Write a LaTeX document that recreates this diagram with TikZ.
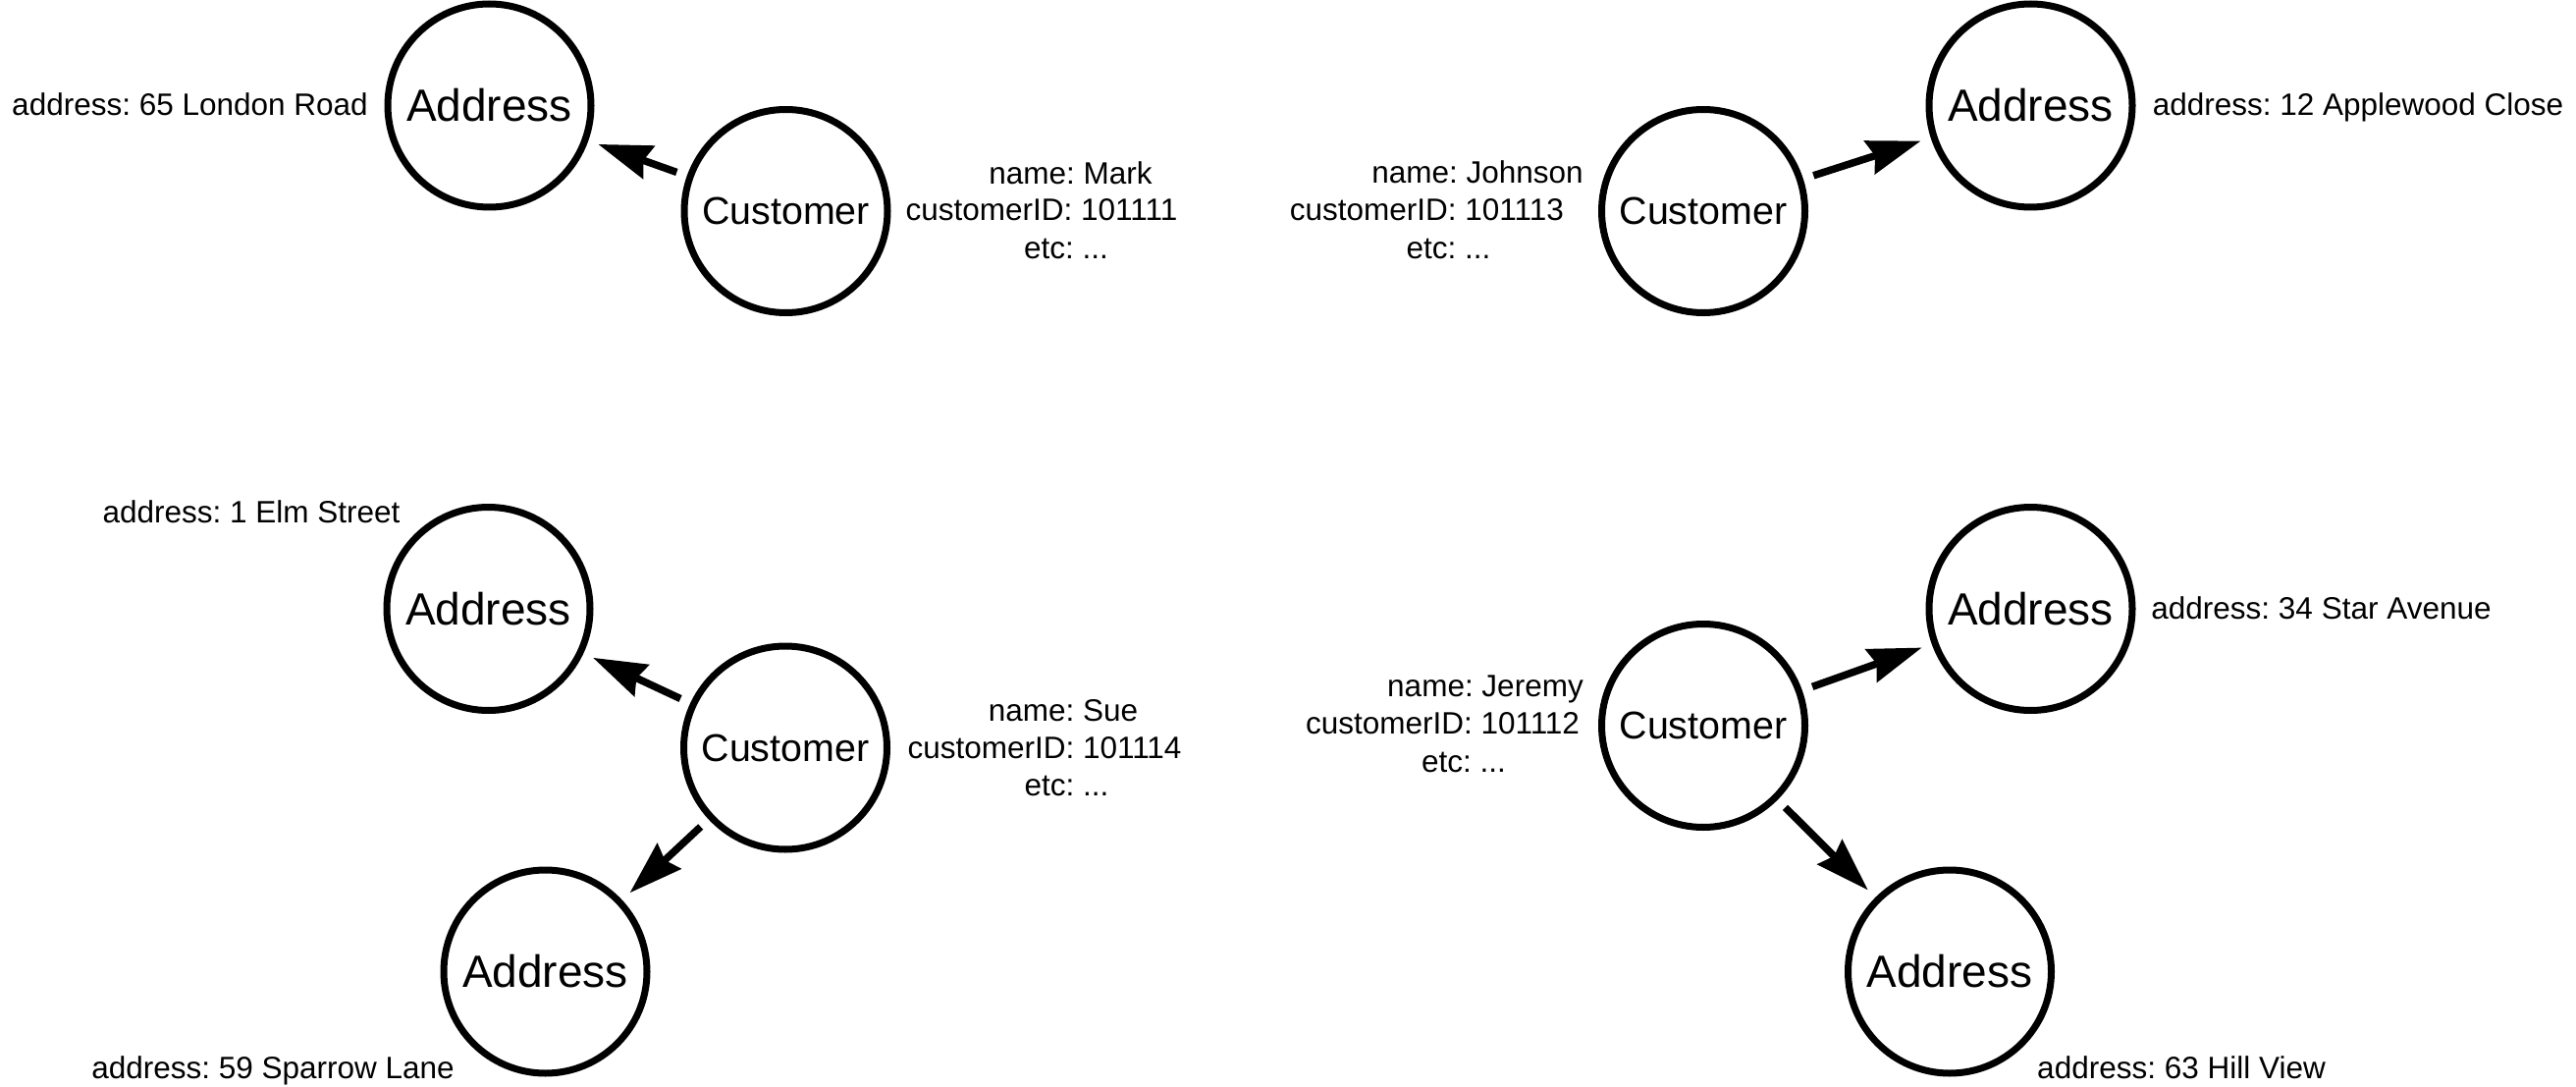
\documentclass[tikz,border=0pt]{standalone}
\usepackage{fontspec}
\setmainfont{Liberation Sans}
\usetikzlibrary{arrows.meta}
\begin{document}
\frenchspacing
\begin{tikzpicture}[x=0.5pt,y=-0.5pt,
  ent/.style={circle, draw=black, line width=3.5pt, minimum size=103.5pt, inner sep=0pt, outer sep=0pt},
  addr/.style={ent, font=\fontsize{23pt}{27pt}\selectfont},
  cust/.style={ent, font=\fontsize{19.7pt}{24pt}\selectfont},
  lbl/.style={anchor=base, inner sep=0pt, font=\fontsize{15.75pt}{19pt}\selectfont\frenchspacing},
  rel/.style={line width=3.75pt, shorten >=7.25pt, shorten <=7.25pt,
    -{Stealth[length=27.5pt,width=18.25pt,inset=3.25pt,line width=0pt]}}
]
\useasboundingbox (0,0) rectangle (2624,1107);

% entity circles
\node[addr] (a1) at (498.5,107.5) {Address};
\node[cust] (c1) at (800.5,215) {Customer};
\node[cust] (c2) at (1735,215) {Customer};
\node[addr] (a2) at (2068.5,107.5) {Address};
\node[addr] (a3) at (497.5,620) {Address};
\node[cust] (c3) at (800,761.5) {Customer};
\node[addr] (a4) at (555.5,989.5) {Address};
\node[cust] (c4) at (1735,739) {Customer};
\node[addr] (a5) at (2068.5,620) {Address};
\node[addr] (a6) at (1986,989.5) {Address};

% address labels
\node[lbl] (la1) at (193.5,117.5) {address: 65 London Road};
\node[lbl] (la2) at (2402,117.5) {address: 12 Applewood Close};
\node[lbl] (la3) at (256,532) {address: 1 Elm Street};
\node[lbl] (la4) at (278,1098) {address: 59 Sparrow Lane};
\node[lbl] (la5) at (2364.5,630) {address: 34 Star Avenue};
\node[lbl] (la6) at (2222,1098) {address: 63 Hill View};

% customer attribute labels
\node[lbl] (m1) at (1090.4,187.3) {name: Mark};
\node[lbl] (m2) at (1061,225) {customerID: 101111};
\node[lbl] (m3) at (1086,263.3) {etc: ...};

\node[lbl] (j1) at (1505,187) {name: Johnson};
\node[lbl] (j2) at (1453.3,225) {customerID: 101113};
\node[lbl] (j3) at (1475.5,263.5) {etc: ...};

\node[lbl] (s1) at (1083,734) {name: Sue};
\node[lbl] (s2) at (1064,772) {customerID: 101114};
\node[lbl] (s3) at (1086.5,810) {etc: ...};

\node[lbl] (r1) at (1513,709) {name: Jeremy};
\node[lbl] (r2) at (1469.5,747.5) {customerID: 101112};
\node[lbl] (r3) at (1491,786) {etc: ...};

% relations
\draw[rel] (c1) -- (a1);
\draw[rel] (c2) -- (a2);
\draw[rel] (c3) -- (a3);
\draw[rel] (c3) -- (a4);
\draw[rel] (c4) -- (a5);
\draw[rel] (c4) -- (a6);
\end{tikzpicture}
\end{document}
